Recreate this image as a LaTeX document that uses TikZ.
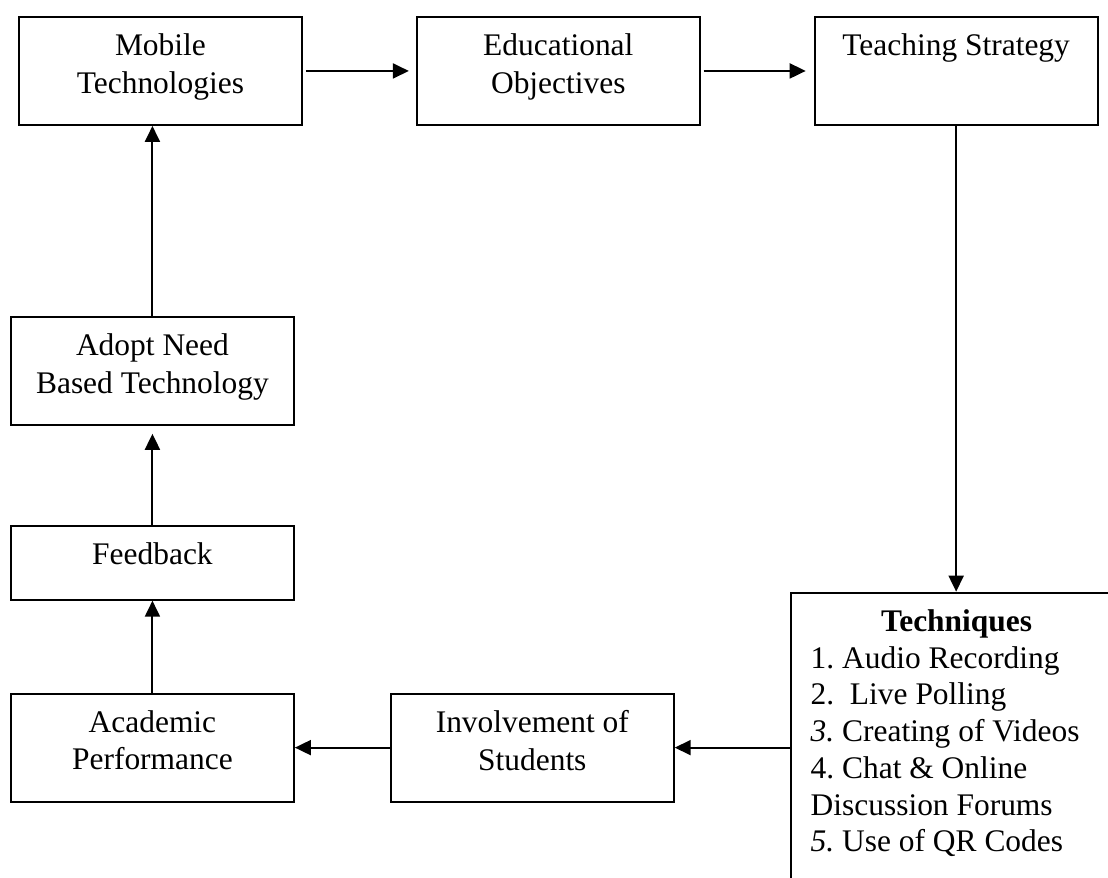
\documentclass[tikz,border=0pt]{standalone}
\usepackage{fontspec}
\setmainfont{Liberation Serif}
\usetikzlibrary{arrows.meta, positioning}
\frenchspacing

\begin{document}
\begin{tikzpicture}[
    x=0.02cm, y=-0.02cm,
    font=\fontsize{17.9}{21.3}\selectfont,
    node distance=2.26cm,
    box/.style={
      draw,
      line width=1.1pt,
      inner sep=0pt,
      execute at begin node={\begin{minipage}[t][#1][t]{5.66cm}\centering\vspace*{0.34cm}},
      execute at end node={\end{minipage}}
    },
    box/.default=2.16cm,
    techbox/.style={
      draw,
      line width=1.1pt,
      inner xsep=0.4cm,
      inner ysep=0pt,
      execute at begin node={\begin{minipage}[t][6.2cm][t]{5.84cm}\fontsize{17.9}{20.9}\selectfont\vspace*{0.34cm}},
      execute at end node={\end{minipage}}
    },
    arrow/.style={
      -{Triangle[length=0.32cm, width=0.3cm]},
      line width=1.1pt
    }
]
\useasboundingbox (0,0) rectangle (1108,878);
\clip (0,0) rectangle (1108,878);

% Top row
\node (mob) [box, anchor=north west] at (18,16) {Mobile\\Technologies};
\node (edu) [box, right=of mob] {Educational\\Objectives};
\node (teach) [box, right=of edu] {Teaching Strategy};

% Left column
\node (adopt) [box, below=3.8cm of mob, xshift=-0.16cm] {Adopt Need\\Based Technology};
\node (feed) [box=1.48cm, below=1.98cm of adopt] {Feedback};
\node (acad) [box, below=1.84cm of feed] {Academic\\Performance};

% Bottom row
\node (invol) [box, right=1.9cm of acad] {Involvement of\\Students};
\node (tech) [techbox, right=2.3cm of invol] {{\centering\textbf{Techniques}\par}
  1. Audio Recording\\
  2.~ Live Polling\\
  \textit{3.} Creating of Videos\\
  4. Chat \& Online\\
  Discussion Forums\\
  \textit{5.} Use of QR Codes};

% Connectors
\draw [arrow, shorten <=0.06cm, shorten >=0.14cm] (mob) -- (edu);
\draw [arrow, shorten <=0.06cm, shorten >=0.16cm] (edu) -- (teach);
\draw [arrow] (teach.south) -- (teach.south |- tech.north);
\draw [arrow] (tech) -- (invol);
\draw [arrow] (invol) -- (acad);
\draw [arrow] (acad) -- (feed);
\draw [arrow, shorten >=0.16cm] (feed) -- (adopt);
\draw [arrow] (adopt.north) -- (adopt.north |- mob.south);

\end{tikzpicture}
\end{document}
